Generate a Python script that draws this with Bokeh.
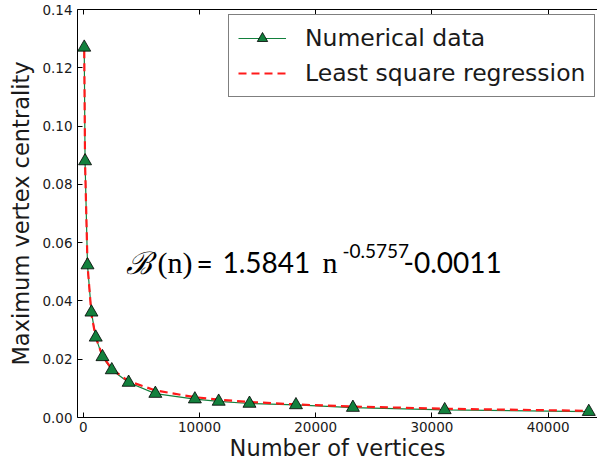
import numpy as np
from bokeh.plotting import figure
from bokeh.models import (Range1d, LinearAxis, FixedTicker, PrintfTickFormatter,
                          Label, Legend, LegendItem, ColumnDataSource)
from bokeh.embed import file_html
from bokeh.resources import INLINE

# Largest vertex centrality observed for graphs of increasing size
vertices = [80, 150, 360, 700, 1070, 1650, 2450, 3900, 6200, 9600,
            11650, 14300, 18300, 23200, 31100, 43500]
max_centrality = [0.1270, 0.0880, 0.0523, 0.0361, 0.0275, 0.0208, 0.0163, 0.0120,
                  0.0082, 0.0063, 0.0055, 0.0048, 0.0043, 0.0034, 0.0026, 0.0020]

# Least-squares power-law fit: B(n) = coef * n**expo + offset
fit_coef = 1.5841
fit_expo = -0.5757
fit_offset = -0.0011

x_ticks = [0, 10000, 20000, 30000, 40000]
y_ticks = [0.00, 0.02, 0.04, 0.06, 0.08, 0.10, 0.12, 0.14]

n = np.array(vertices, dtype=float)
fit_values = fit_coef * n ** fit_expo + fit_offset

src = ColumnDataSource(dict(n=vertices, b=max_centrality, fit=fit_values))

TICK_FONT = "DejaVu Sans"
p = figure(width=597, height=463,
           x_range=Range1d(-500, 44250), y_range=Range1d(0, 0.14),
           output_backend="svg", toolbar_location=None,
           min_border_left=77, min_border_right=0,
           min_border_top=9, min_border_bottom=46,
           outline_line_color=None, background_fill_color="white",
           border_fill_color="white")
p.grid.visible = False

for ax, ticks in ((p.xaxis[0], x_ticks), (p.yaxis[0], y_ticks)):
    ax.ticker = FixedTicker(ticks=ticks)
    ax.major_tick_in = 5
    ax.major_tick_out = 0
    ax.minor_tick_in = 0
    ax.minor_tick_out = 0
    ax.axis_line_color = "black"
    ax.major_tick_line_color = "black"
    ax.major_label_text_font = TICK_FONT
    ax.major_label_text_font_size = "13.5px"
    ax.major_label_text_color = "#1a1a1a"
    ax.axis_label_text_font = TICK_FONT
    ax.axis_label_text_font_size = "22.5px"
    ax.axis_label_text_font_style = "normal"
    ax.axis_label_text_color = "#1a1a1a"

p.xaxis[0].formatter = PrintfTickFormatter(format="%d")
p.yaxis[0].formatter = PrintfTickFormatter(format="%.2f")
p.xaxis[0].axis_label = "Number of vertices"
p.yaxis[0].axis_label = "Maximum vertex centrality"
p.xaxis[0].major_label_standoff = 4
p.xaxis[0].axis_label_standoff = 0
p.yaxis[0].major_label_standoff = 5
p.yaxis[0].axis_label_standoff = 5

# top spine with inward ticks only
top = LinearAxis(ticker=FixedTicker(ticks=x_ticks),
                 major_label_overrides={t: "" for t in x_ticks},
                 major_label_text_font_size="0px", major_label_standoff=0,
                 major_tick_in=5, major_tick_out=0,
                 minor_tick_in=0, minor_tick_out=0,
                 axis_line_color="black", major_tick_line_color="black")
p.add_layout(top, "above")

green = "#13803d"
data_line = p.line("n", "b", source=src, line_color=green, line_width=1.2)
fit_line = p.line("n", "fit", source=src, line_color="#ff1a1a", line_width=2.2,
                  line_dash="8 5")
markers = p.scatter("n", "b", source=src, marker="triangle", size=13,
                    fill_color=green, line_color="black", line_width=0.8)

legend = Legend(items=[LegendItem(label="Numerical data", renderers=[data_line, markers]),
                       LegendItem(label="Least square regression", renderers=[fit_line])],
                location=(151, 320),
                label_text_font=TICK_FONT, label_text_font_size="23.5px",
                label_text_color="#1a1a1a",
                label_height=26, glyph_height=26, glyph_width=48,
                label_standoff=19, spacing=7, padding=9, margin=0,
                border_line_color="black", border_line_width=1,
                background_fill_color="white", background_fill_alpha=1.0)
p.add_layout(legend)

# fitted law written out next to the curve
base_y = 155
parts = [
    ("\u212c", 48, base_y, "DejaVu Serif", "31px", "italic"),
    ("(n)", 80, base_y, "Liberation Serif", "30px", "normal"),
    ("=", 119, base_y, "Lato", "28px", "normal"),
    (f"{fit_coef:.4f}", 145, base_y, "Lato", "28px", "normal"),
    ("n", 245, base_y, "Liberation Serif", "30px", "normal"),
    (f"{fit_expo:.4f}", 265, base_y + 12, "Lato", "19px", "normal"),
    (f"{fit_offset:.4f}", 326, base_y, "Lato", "28px", "normal"),
]
for txt, sx, sy, font, size, style in parts:
    p.add_layout(Label(x=sx, y=sy, x_units="screen", y_units="screen", text=txt,
                       text_font=font, text_font_size=size, text_font_style=style,
                       text_color="black", text_baseline="alphabetic",
                       text_align="left"))

open("out.html", "w").write(file_html(p, INLINE))
